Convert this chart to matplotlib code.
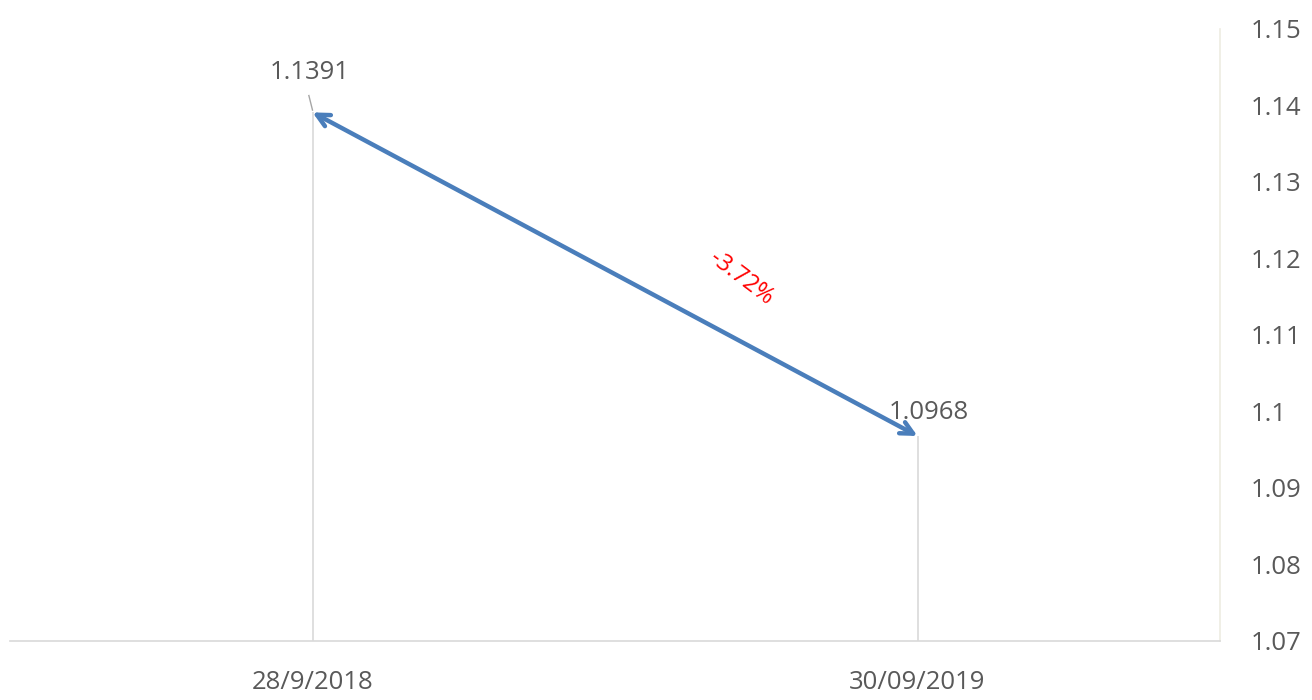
"""Two-point exchange-rate change chart: 28/9/2018 -> 30/09/2019 with percent arrow."""

import matplotlib

matplotlib.use("Agg")
import matplotlib.pyplot as plt  # noqa: E402
from matplotlib.ticker import FixedLocator, FuncFormatter  # noqa: E402

DATES = ["28/9/2018", "30/09/2019"]
RATES = [1.1391, 1.0968]
CHANGE_LABEL = "-3.72%"
Y_TICKS = [1.07, 1.08, 1.09, 1.10, 1.11, 1.12, 1.13, 1.14, 1.15]

TEXT_COLOR = "#595959"
ARROW_COLOR = "#4a7ebb"
DROP_COLOR = "#d9d9d9"
FS = 18.5

plt.rcParams["font.family"] = ["Open Sans", "DejaVu Sans"]


def _fmt(v: float, _pos: int) -> str:
    return f"{v:.2f}".rstrip("0").rstrip(".")


fig = plt.figure(figsize=(13.12, 7.0), dpi=100)
ax = fig.add_axes([10 / 1312, 59 / 700, 1210 / 1312, 612 / 700])

xs = list(range(len(DATES)))
ax.set_xlim(-0.5, 1.5)
ax.set_ylim(Y_TICKS[0], Y_TICKS[-1])

# drop lines from the axis floor up to each value
ax.vlines(xs, Y_TICKS[0], RATES, color=DROP_COLOR, linewidth=1.2, zorder=1)

# double-headed arrow between the two points
ax.annotate("", xy=(xs[0], RATES[0]), xytext=(xs[1], RATES[1]),
            arrowprops=dict(arrowstyle="<->,head_length=0.9,head_width=0.45",
                            color=ARROW_COLOR, linewidth=3.2,
                            shrinkA=0, shrinkB=0),
            zorder=3)

# value labels (first one with a short leader line)
ax.plot([xs[0] - 0.006, xs[0]], [RATES[0] + 0.0022, RATES[0] + 0.0003],
        color="#a6a6a6", linewidth=1.0, zorder=2)
ax.annotate(f"{RATES[0]:.4f}", xy=(xs[0], RATES[0]), xytext=(-2, 29),
            textcoords="offset points", ha="center", va="center",
            fontsize=FS, color=TEXT_COLOR)
ax.annotate(f"{RATES[1]:.4f}", xy=(xs[1], RATES[1]), xytext=(8, 17),
            textcoords="offset points", ha="center", va="center",
            fontsize=FS, color=TEXT_COLOR)

# percent change label beside the arrow
mid_x = (xs[0] + xs[1]) / 2
mid_y = (RATES[0] + RATES[1]) / 2
ax.annotate(CHANGE_LABEL, xy=(mid_x, mid_y), xytext=(91, -3),
            textcoords="offset points", ha="center", va="center",
            rotation=-37, fontsize=17, color="red")

ax.set_xticks(xs)
ax.set_xticklabels(DATES)
ax.yaxis.set_major_locator(FixedLocator(Y_TICKS))
ax.yaxis.set_major_formatter(FuncFormatter(_fmt))
ax.yaxis.tick_right()
ax.tick_params(axis="y", length=0, pad=22, labelsize=FS, labelcolor=TEXT_COLOR)
ax.tick_params(axis="x", length=0, pad=21, labelsize=FS, labelcolor=TEXT_COLOR)

for side in ("left", "top"):
    ax.spines[side].set_visible(False)
ax.spines["bottom"].set_color(DROP_COLOR)
ax.spines["bottom"].set_linewidth(1.2)
ax.spines["right"].set_color("#eeece1")
ax.spines["right"].set_linewidth(1.2)

fig.savefig("out.png", dpi=100)
plt.close(fig)
print("Wrote out.png")
